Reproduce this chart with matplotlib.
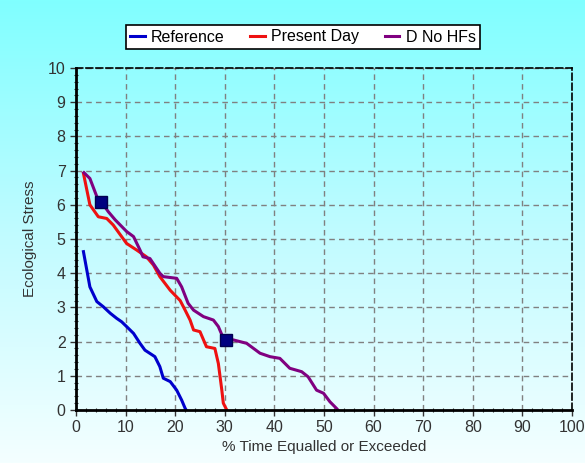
import numpy as np
import matplotlib.pyplot as plt
from matplotlib.ticker import MultipleLocator
from matplotlib.colors import LinearSegmentedColormap

plt.rcParams['font.family'] = ['Liberation Sans', 'DejaVu Sans']

# data
ref_x = [1.5, 2.8, 4.2, 5.5, 6.9, 8.2, 9.2, 10.2, 11.6, 12.9, 13.9, 15.9, 16.9,
         17.6, 19.0, 20.3, 21.3, 22.0, 22.2]
ref_y = [4.63, 3.6, 3.17, 3.02, 2.83, 2.68, 2.58, 2.44, 2.24, 1.95, 1.75, 1.56, 1.27,
         0.93, 0.83, 0.58, 0.29, 0.05, 0.0]

pd_x = [1.5, 2.8, 4.5, 6.2, 7.5, 10.2, 12.2, 14.2, 15.6, 16.9, 19.0, 21.0, 22.0,
        23.0, 23.7, 25.0, 26.3, 28.0, 28.7, 29.4, 29.7, 30.4]
pd_y = [6.92, 6.0, 5.65, 5.6, 5.41, 4.87, 4.68, 4.48, 4.24, 3.9, 3.5, 3.2, 2.92,
        2.63, 2.34, 2.29, 1.85, 1.8, 1.36, 0.58, 0.2, 0.0]

dn_x = [1.6, 2.8, 4.2, 5.1, 6.5, 7.9, 10.2, 11.6, 12.9, 13.5, 14.9, 16.9, 17.6,
        20.3, 21.3, 22.6, 23.7, 25.7, 27.7, 28.7, 29.7, 30.2, 31.7, 34.4, 37.1,
        39.1, 41.1, 43.1, 45.5, 46.8, 48.5, 49.9, 51.2, 52.5, 52.8]
dn_y = [6.94, 6.77, 6.24, 6.09, 5.8, 5.56, 5.22, 5.07, 4.68, 4.48, 4.43, 4.0, 3.9,
        3.85, 3.6, 3.12, 2.92, 2.73, 2.63, 2.44, 2.1, 2.05, 2.05, 1.95, 1.66,
        1.56, 1.51, 1.22, 1.12, 0.97, 0.58, 0.49, 0.24, 0.05, 0.0]

mark_x = [5.1, 30.2]
mark_y = [6.09, 2.05]

fig = plt.figure(figsize=(5.85, 4.63), dpi=100)

# background gradient
bg = fig.add_axes([0, 0, 1, 1], zorder=-10)
cmap = LinearSegmentedColormap.from_list('bg', ['#f4ffff', '#c0fbff', '#80ffff'])
grad = np.linspace(0, 1, 256).reshape(-1, 1)
bg.imshow(grad, aspect='auto', cmap=cmap, origin='lower', extent=[0, 1, 0, 1])
bg.axis('off')

ax = fig.add_axes([76 / 585, 53 / 463, 496 / 585, 342 / 463])
ax.patch.set_alpha(0)

ax.plot(ref_x, ref_y, c='#0000cc', lw=2.2, label='Reference')
ax.plot(pd_x, pd_y, c='#ee1111', lw=2.2, label='Present Day')
ax.plot(dn_x, dn_y, c='#800080', lw=2.2, label='D No HFs')
ax.plot(mark_x, mark_y, ls='none', marker='s', ms=9, mfc='#000080', mec='#000050', zorder=5)

ax.set_xlim(0, 100)
ax.set_ylim(0, 10)
ax.set_xticks(range(0, 101, 10))
ax.set_yticks(range(0, 11))
ax.xaxis.set_minor_locator(MultipleLocator(2))
ax.yaxis.set_minor_locator(MultipleLocator(0.2))

ax.grid(which='major', ls=(0, (4, 3)), c='#808080', lw=1)
ax.set_axisbelow(True)

for s in ['left', 'bottom']:
    ax.spines[s].set_linewidth(2)
for s in ['top', 'right']:
    ax.spines[s].set_linestyle((0, (4, 2)))
    ax.spines[s].set_linewidth(1.2)

ax.tick_params(which='major', length=4, width=1, labelsize=11.5, colors='#333333')
ax.tick_params(which='minor', length=3, width=0.8, direction='inout', colors='#333333')

ax.set_xlabel('% Time Equalled or Exceeded', fontsize=11, color='#333333', labelpad=3)
ax.set_ylabel('Ecological Stress', fontsize=11, color='#333333', labelpad=8)

leg = fig.legend(loc='center', bbox_to_anchor=(303 / 585, 1 - 37 / 463), ncol=3,
                 fontsize=11.5, frameon=True, fancybox=False, edgecolor='black',
                 handlelength=0.9, handletextpad=0.4, columnspacing=1.6,
                 borderpad=0.3, framealpha=1)
leg.get_frame().set_linewidth(1.2)

fig.savefig('out.png', dpi=100)
